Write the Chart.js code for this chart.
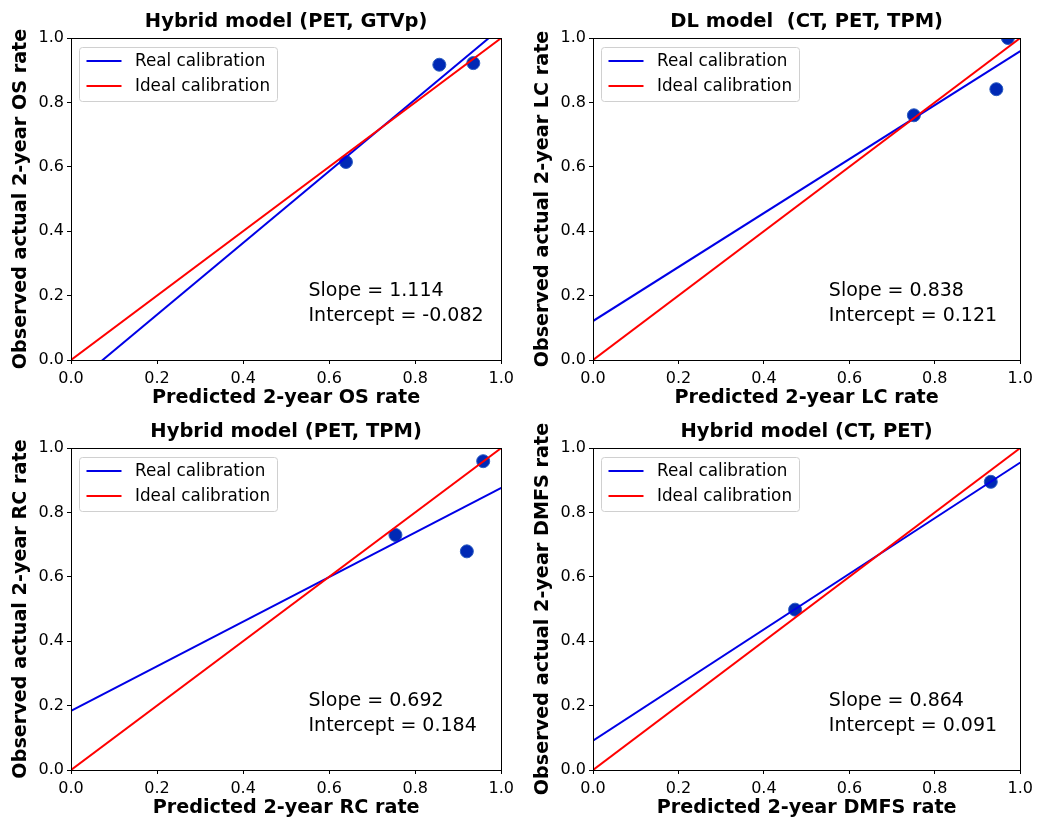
<!DOCTYPE html>
<html>
<head>
<meta charset="utf-8">
<script src="https://cdn.jsdelivr.net/npm/chart.js@4.4.1/dist/chart.umd.min.js"></script>
<style>
    html, body { margin: 0; padding: 0; background: #fff; }
    #wrap { position: relative; width: 1038px; height: 820px; }
    #wrap canvas { position: absolute; }
</style>
</head>
<body>
<div id="wrap">
    <canvas id="c0" width="519" height="410" style="left:0;top:0"></canvas>
    <canvas id="c1" width="519" height="410" style="left:519px;top:0"></canvas>
    <canvas id="c2" width="519" height="410" style="left:0;top:410px"></canvas>
    <canvas id="c3" width="519" height="410" style="left:519px;top:410px"></canvas>
</div>
<script>
// points (predicted, observed)
const predOS = [0.639, 0.856, 0.935];
const obsOS = [0.615, 0.917, 0.922];
const predLC = [0.751, 0.944, 0.971];
const obsLC = [0.760, 0.841, 1.0];
const predRC = [0.754, 0.920, 0.958];
const obsRC = [0.730, 0.679, 0.959];
const predDMFS = [0.473, 0.931];
const obsDMFS = [0.498, 0.895];

// calibration lines: y at x = 0 and x = 1
const lineX = [0, 1];
const idealY = [0, 1];
const realOS = [-0.082, 1.032];
const realLC = [0.121, 0.959];
const realRC = [0.184, 0.876];
const realDMFS = [0.091, 0.955];

const slopeText = ['1.114', '0.838', '0.692', '0.864'];
const interceptText = ['-0.082', '0.121', '0.184', '0.091'];
const tickVals = [0, 0.2, 0.4, 0.6, 0.8, 1.0];

const FONT = '"DejaVu Sans", sans-serif';
const BLUE = '#0000e6';
const RED = '#ff0000';

const panels = [
    {id: 'c0', title: 'Hybrid model (PET, GTVp)', x: 'Predicted 2-year OS rate', y: 'Observed actual 2-year OS rate',
        pred: predOS, obs: obsOS, real: realOS, left: 71, right: 16, yPad: 9},
    {id: 'c1', title: 'DL model  (CT, PET, TPM)', x: 'Predicted 2-year LC rate', y: 'Observed actual 2-year LC rate',
        pred: predLC, obs: obsLC, real: realLC, left: 74, right: 13, yPad: 12},
    {id: 'c2', title: 'Hybrid model (PET, TPM)', x: 'Predicted 2-year RC rate', y: 'Observed actual 2-year RC rate',
        pred: predRC, obs: obsRC, real: realRC, left: 71, right: 16, yPad: 9},
    {id: 'c3', title: 'Hybrid model (CT, PET)', x: 'Predicted 2-year DMFS rate', y: 'Observed actual 2-year DMFS rate',
        pred: predDMFS, obs: obsDMFS, real: realDMFS, left: 74, right: 13, yPad: 12}
];

const pts = (xs, ys) => xs.map((v, i) => ({x: v, y: ys[i]}));

// spines on all four sides
const framePlugin = {
    id: 'frame',
    afterDatasetsDraw(chart) {
        const {ctx, chartArea: a} = chart;
        ctx.save();
        ctx.strokeStyle = '#000';
        ctx.lineWidth = 1;
        ctx.strokeRect(Math.round(a.left) + 0.5, Math.round(a.top) + 0.5,
            Math.round(a.right - a.left), Math.round(a.bottom - a.top));
        ctx.restore();
    }
};

// matplotlib-like legend box in the upper left
const boxLegend = {
    id: 'boxLegend',
    afterDatasetsDraw(chart) {
        const {ctx, chartArea: a} = chart;
        const items = chart.data.datasets.filter(d => d.label);
        ctx.save();
        ctx.font = '16.8px ' + FONT;
        const tw = Math.max(...items.map(d => ctx.measureText(d.label).width));
        const bx = a.left + 8.5, by = a.top + 9.5;
        const bw = 55 + tw + 8, bh = 54;
        ctx.beginPath();
        ctx.roundRect(bx, by, bw, bh, 3);
        ctx.fillStyle = 'rgba(255,255,255,0.85)';
        ctx.fill();
        ctx.strokeStyle = '#d0d0d0';
        ctx.lineWidth = 1;
        ctx.stroke();
        items.forEach((d, i) => {
            const y = by + 13.5 + i * 25;
            ctx.beginPath();
            ctx.moveTo(bx + 7, y);
            ctx.lineTo(bx + 42, y);
            ctx.strokeStyle = d.borderColor;
            ctx.lineWidth = 2;
            ctx.stroke();
            ctx.fillStyle = '#000';
            ctx.textBaseline = 'middle';
            ctx.fillText(d.label, bx + 55.5, y + 0.5);
        });
        ctx.restore();
    }
};

// slope / intercept note, anchored in data coordinates
const notePlugin = {
    id: 'note',
    afterDatasetsDraw(chart, args, opts) {
        const {ctx, scales} = chart;
        const x = scales.x.getPixelForValue(0.552);
        const y = scales.y.getPixelForValue(0.2);
        ctx.save();
        ctx.font = '19px ' + FONT;
        ctx.fillStyle = '#000';
        ctx.textBaseline = 'alphabetic';
        ctx.fillText('Slope = ' + opts.slope, x, y);
        ctx.fillText('Intercept = ' + opts.intercept, x, y + 25.7);
        ctx.restore();
    }
};

panels.forEach((p, k) => {
    new Chart(document.getElementById(p.id), {
        type: 'scatter',
        data: {
            datasets: [
                {label: 'Real calibration', data: pts(lineX, p.real), showLine: true, borderColor: BLUE,
                    borderWidth: 2, pointRadius: 0, clip: 0, order: 2},
                {label: 'Ideal calibration', data: pts(lineX, idealY), showLine: true, borderColor: RED,
                    borderWidth: 2, pointRadius: 0, clip: 0, order: 1},
                {data: pts(p.pred, p.obs), backgroundColor: '#0029b5', borderColor: '#2a5cc0',
                    borderWidth: 1, pointRadius: 6.5, clip: 0, order: 3}
            ]
        },
        options: {
            responsive: false,
            animation: false,
            events: [],
            layout: {padding: {left: 0, right: p.right, top: 0, bottom: 0}},
            plugins: {
                legend: {display: false},
                tooltip: {enabled: false},
                title: {display: true, fullSize: false, text: p.title, color: '#000',
                    font: {family: FONT, size: 19.5, weight: 'bold'}, padding: {top: 10, bottom: 4.6}},
                note: {slope: slopeText[k], intercept: interceptText[k]}
            },
            scales: {
                x: {
                    type: 'linear', min: 0, max: 1,
                    afterBuildTicks: s => { s.ticks = tickVals.map(v => ({value: v})); },
                    afterFit: s => { s.height = 50; },
                    ticks: {callback: v => v.toFixed(1), color: '#000', font: {family: FONT, size: 16},
                        padding: 5, maxRotation: 0, autoSkip: false},
                    grid: {drawOnChartArea: false, drawTicks: true, tickLength: 4, tickColor: '#000'},
                    border: {display: false},
                    title: {display: true, text: p.x, color: '#000',
                        font: {family: FONT, size: 19.2, weight: 'bold'}, padding: {top: 0, bottom: 0}}
                },
                y: {
                    type: 'linear', min: 0, max: 1,
                    afterBuildTicks: s => { s.ticks = tickVals.map(v => ({value: v})); },
                    afterFit: s => { s.width = p.left; },
                    ticks: {callback: v => v.toFixed(1), color: '#000', font: {family: FONT, size: 16},
                        padding: 3, autoSkip: false},
                    grid: {drawOnChartArea: false, drawTicks: true, tickLength: 4, tickColor: '#000'},
                    border: {display: false},
                    title: {display: true, text: p.y, color: '#000',
                        font: {family: FONT, size: 19.2, weight: 'bold'}, padding: {top: p.yPad, bottom: 0}}
                }
            }
        },
        plugins: [framePlugin, boxLegend, notePlugin]
    });
});
</script>
</body>
</html>
